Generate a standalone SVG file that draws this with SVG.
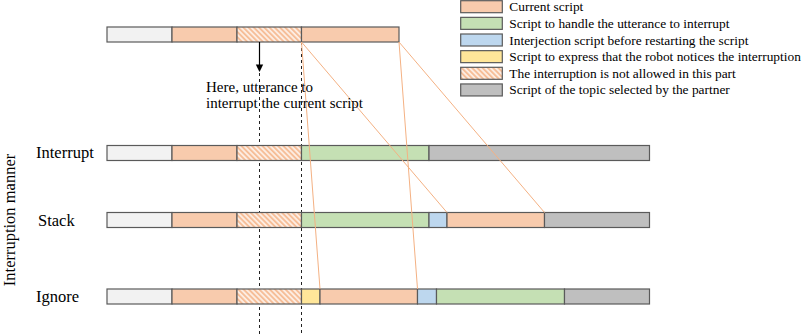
<svg xmlns="http://www.w3.org/2000/svg" width="803" height="335" viewBox="0 0 803 335">
<style>
text{font-family:"Liberation Serif","Times New Roman",serif;fill:#000}
.seg{stroke:#5a5a5a;stroke-width:1.2}
.w{fill:#f2f2f2}.o{fill:#f8cbad}.g{fill:#c5e0b4}.b{fill:#bdd7ee}.y{fill:#ffe699}.k{fill:#bfbfbf}.h{fill:url(#hatch)}
.lab{font-size:16.5px}
.leg{font-size:13.4px}
.conn{stroke:#f4b183;stroke-width:1;fill:none}
.dash{stroke:#222;stroke-width:1;stroke-dasharray:3,3;fill:none}
</style>
<defs>
<pattern id="hatch" patternUnits="userSpaceOnUse" width="3.7" height="3.7" patternTransform="rotate(-45)">
<rect width="3.7" height="3.7" fill="#fdeee4"/>
<rect width="1.9" height="3.7" fill="#f6be98"/>
</pattern>
</defs>

<g id="dashed-lines">
<line class="dash" x1="259.5" y1="73" x2="259.5" y2="335"/>
<line class="dash" x1="301.5" y1="42" x2="301.5" y2="335"/>
</g>

<g id="current-bar">
<rect class="seg w" x="107" y="27" width="65" height="15"/>
<rect class="seg o" x="172" y="27" width="65" height="15"/>
<rect class="seg h" x="237" y="27" width="64.5" height="15"/>
<rect class="seg o" x="301.5" y="27" width="97.5" height="15"/>
</g>

<g id="interrupt-row">
<text class="lab" x="36" y="158">Interrupt</text>
<rect class="seg w" x="107" y="145.5" width="65" height="15"/>
<rect class="seg o" x="172" y="145.5" width="65" height="15"/>
<rect class="seg h" x="237" y="145.5" width="64.5" height="15"/>
<rect class="seg g" x="301.5" y="145.5" width="127.5" height="15"/>
<rect class="seg k" x="429" y="145.5" width="220.5" height="15"/>
</g>

<g id="stack-row">
<text class="lab" x="38" y="226">Stack</text>
<rect class="seg w" x="107" y="212.5" width="65" height="15"/>
<rect class="seg o" x="172" y="212.5" width="65" height="15"/>
<rect class="seg h" x="237" y="212.5" width="64.5" height="15"/>
<rect class="seg g" x="301.5" y="212.5" width="127.5" height="15"/>
<rect class="seg b" x="429" y="212.5" width="18" height="15"/>
<rect class="seg o" x="447" y="212.5" width="97.5" height="15"/>
<rect class="seg k" x="544.5" y="212.5" width="105" height="15"/>
</g>

<g id="ignore-row">
<text class="lab" x="36" y="302">Ignore</text>
<rect class="seg w" x="107" y="289" width="65" height="15"/>
<rect class="seg o" x="172" y="289" width="65" height="15"/>
<rect class="seg h" x="237" y="289" width="64.5" height="15"/>
<rect class="seg y" x="301.5" y="289" width="18.5" height="15"/>
<rect class="seg o" x="320" y="289" width="97.5" height="15"/>
<rect class="seg b" x="417.5" y="289" width="19" height="15"/>
<rect class="seg g" x="436.5" y="289" width="128" height="15"/>
<rect class="seg k" x="564.5" y="289" width="85" height="15"/>
</g>

<g id="connectors">
<line class="conn" x1="301.5" y1="42" x2="320" y2="289"/>
<line class="conn" x1="301.5" y1="42" x2="447" y2="212.5"/>
<line class="conn" x1="399" y1="42" x2="417.5" y2="289"/>
<line class="conn" x1="399" y1="42" x2="544.5" y2="212.5"/>
</g>

<g id="annotation">
<line x1="259.5" y1="42" x2="259.5" y2="65" stroke="#000" stroke-width="1.2"/>
<polygon points="255.8,64.5 263.2,64.5 259.5,72" fill="#000"/>
<text x="206" y="91.5" style="font-size:15px">Here, utterance to</text>
<text x="206" y="108" style="font-size:15px">interrupt the current script</text>
</g>

<g id="axis-label">
<text class="lab" transform="translate(14.5,220) rotate(-90)" text-anchor="middle">Interruption manner</text>
</g>

<g id="legend">
<rect class="seg o" x="460.7" y="0.7" width="41.6" height="12"/>
<text class="leg" x="509.3" y="11.2">Current script</text>
<rect class="seg g" x="460.7" y="17.35" width="41.6" height="12"/>
<text class="leg" x="509.3" y="27.85">Script to handle the utterance to interrupt</text>
<rect class="seg b" x="460.7" y="34" width="41.6" height="12"/>
<text class="leg" x="509.3" y="44.5">Interjection script before restarting the script</text>
<rect class="seg y" x="460.7" y="50.65" width="41.6" height="12"/>
<text class="leg" x="509.3" y="61.15">Script to express that the robot notices the interruption</text>
<rect class="seg h" x="460.7" y="67.3" width="41.6" height="12"/>
<text class="leg" x="509.3" y="77.8">The interruption is not allowed in this part</text>
<rect class="seg k" x="460.7" y="83.95" width="41.6" height="12"/>
<text class="leg" x="509.3" y="94.45">Script of the topic selected by the partner</text>
</g>
</svg>
